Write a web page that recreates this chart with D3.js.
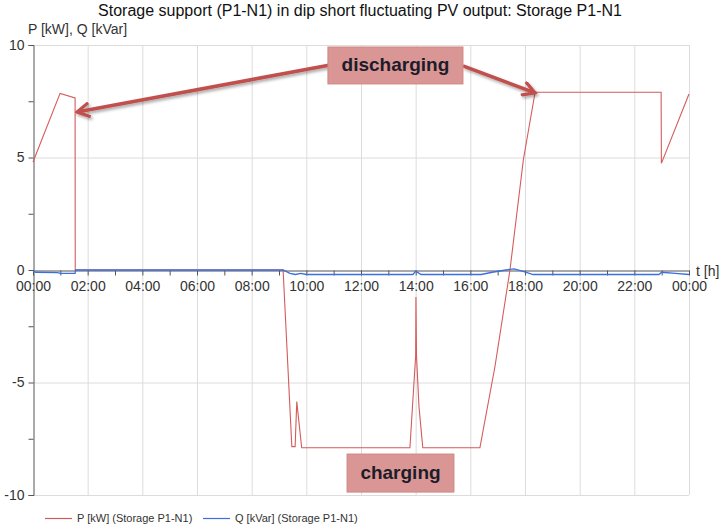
<!DOCTYPE html>
<html>
<head>
<meta charset="utf-8">
<script src="https://cdn.jsdelivr.net/npm/d3@7"></script>
<style>
  body { margin: 0; background: #fff; }
  text { font-family: Arial, "Liberation Sans", sans-serif; }
</style>
</head>
<body>
<svg width="720" height="528"></svg>
<script>
// P series (storage active power), hours vs kW
var pTime = [0, 0.99, 1.54, 1.545, 9.15, 9.47, 9.59, 9.65, 9.83, 13.79, 14.0, 14.01, 14.03, 14.12, 14.26, 16.35, 16.9, 17.45, 17.94, 18.37, 22.98, 22.99, 24];
var pVal  = [4.8, 7.85, 7.65, 0, 0, -7.85, -7.85, -5.85, -7.9, -7.9, -3.8, -1.2, -3.8, -6.05, -7.9, -7.9, -4.3, 0, 4.9, 7.9, 7.9, 4.74, 7.82];
// Q series (reactive power)
var qTime = [0, 0.1, 0.9, 1.0, 1.54, 1.56, 9.15, 9.4, 9.6, 9.8, 10, 13.9, 14.0, 14.2, 16.4, 16.8, 17.3, 17.6, 17.9, 18.3, 22.9, 23.0, 23.5, 24];
var qVal  = [-0.05, -0.1, -0.12, -0.15, -0.15, 0, 0, -0.15, -0.2, -0.15, -0.2, -0.2, -0.05, -0.2, -0.2, -0.1, 0, 0.05, -0.05, -0.2, -0.2, -0.1, -0.15, -0.2];

var xTicks = [0, 2, 4, 6, 8, 10, 12, 14, 16, 18, 20, 22, 24];
var yTicks = [-10, -5, 0, 5, 10];

var svg = d3.select("svg");
var x = d3.scaleLinear().domain([0, 24]).range([33, 689]);
var y = d3.scaleLinear().domain([-10, 10]).range([495, 45]);

var red = "#d45b5b", blue = "#3b6fe0", axisCol = "#555";

svg.append("text")
  .attr("x", 360).attr("y", 16)
  .attr("text-anchor", "middle")
  .attr("font-size", "16px")
  .attr("fill", "#111")
  .text("Storage support (P1-N1) in dip short fluctuating PV output: Storage P1-N1");

svg.append("text")
  .attr("x", 28).attr("y", 34)
  .attr("font-size", "14px")
  .attr("fill", "#333")
  .text("P [kW], Q [kVar]");

// grid
var grid = svg.append("g").attr("stroke", "#dcdcdc").attr("stroke-width", 1);
xTicks.slice(1).forEach(function (t) {
  grid.append("line").attr("x1", x(t) + 0.5).attr("x2", x(t) + 0.5).attr("y1", y(10)).attr("y2", y(-10));
});
yTicks.forEach(function (v) {
  if (v == 0) return;
  grid.append("line").attr("x1", x(0)).attr("x2", x(24)).attr("y1", y(v) + 0.5).attr("y2", y(v) + 0.5);
});

// y axis
var yAxis = svg.append("g")
  .attr("transform", "translate(" + (x(0) + 0.5) + ",0)")
  .call(d3.axisLeft(y).tickValues(d3.range(-10, 10.1, 2.5)).tickSize(5)
    .tickFormat(function (d) { return yTicks.indexOf(d) >= 0 ? d : ""; }));
yAxis.select(".domain").attr("stroke", axisCol);
yAxis.selectAll(".tick line").attr("stroke", axisCol);
yAxis.selectAll(".tick text").attr("font-size", "14px").attr("fill", "#333").attr("x", -9)
  .attr("font-family", "Arial, 'Liberation Sans', sans-serif");

// x axis at zero
var xAxis = svg.append("g")
  .attr("transform", "translate(0," + (y(0) + 0.5) + ")")
  .call(d3.axisBottom(x).tickValues(d3.range(0, 24.1, 1)).tickSize(5).tickSizeOuter(0)
    .tickFormat(function (d) { return d % 2 == 0 ? d3.format("02d")(d % 24) + ":00" : ""; }));
xAxis.select(".domain").attr("stroke", axisCol);
xAxis.selectAll(".tick line").attr("stroke", axisCol);
xAxis.selectAll(".tick text").attr("font-size", "14px").attr("fill", "#333").attr("y", 11)
  .attr("font-family", "Arial, 'Liberation Sans', sans-serif");

svg.append("text")
  .attr("x", 696).attr("y", y(0) + 6)
  .attr("font-size", "14px")
  .attr("fill", "#333")
  .text("t [h]");

// series (P first so Q sits on top along zero)
var line = d3.line().x(function (d) { return x(d[0]); }).y(function (d) { return y(d[1]); });
svg.append("path")
  .datum(pTime.map(function (t, i) { return [t, pVal[i]]; }))
  .attr("d", line).attr("fill", "none").attr("stroke", red).attr("stroke-width", 1.1);
svg.append("path")
  .datum(qTime.map(function (t, i) { return [t, qVal[i]]; }))
  .attr("d", line).attr("fill", "none").attr("stroke", blue).attr("stroke-width", 1.3);

// annotations
var defs = svg.append("defs");
var f = defs.append("filter").attr("id", "shadow").attr("x", "-20%").attr("y", "-50%").attr("width", "140%").attr("height", "200%");
f.append("feDropShadow").attr("dx", 1.5).attr("dy", 2).attr("stdDeviation", 1.5).attr("flood-color", "#000").attr("flood-opacity", 0.35);
defs.append("marker").attr("id", "head")
  .attr("viewBox", "0 0 10 10").attr("refX", 9).attr("refY", 5)
  .attr("markerWidth", 4.5).attr("markerHeight", 4.5).attr("orient", "auto")
  .append("path").attr("d", "M1,0.5 L9,5 L1,9.5").attr("fill", "none").attr("stroke", "#c0504d").attr("stroke-width", 2);

var arrows = [[10.87, 9.11, 1.61, 7.02], [15.73, 9.07, 18.37, 7.87]];
arrows.forEach(function (a) {
  svg.append("line")
    .attr("x1", x(a[0])).attr("y1", y(a[1])).attr("x2", x(a[2])).attr("y2", y(a[3]))
    .attr("stroke", "#c0504d").attr("stroke-width", 3.5)
    .attr("marker-end", "url(#head)")
    .attr("filter", "url(#shadow)");
});

var boxes = [
  { label: "discharging", t0: 10.79, t1: 15.73, v0: 9.91, v1: 8.27 },
  { label: "charging", t0: 11.49, t1: 15.4, v0: -8.18, v1: -9.87 }
];
boxes.forEach(function (b) {
  svg.append("rect")
    .attr("x", x(b.t0)).attr("y", y(b.v0))
    .attr("width", x(b.t1) - x(b.t0)).attr("height", y(b.v1) - y(b.v0))
    .attr("fill", "#d99694").attr("stroke", "#cf8683").attr("stroke-width", 1);
  svg.append("text")
    .attr("x", (x(b.t0) + x(b.t1)) / 2).attr("y", (y(b.v0) + y(b.v1)) / 2 + 6)
    .attr("text-anchor", "middle")
    .attr("font-family", "Lato, 'Open Sans', sans-serif")
    .attr("font-weight", "bold")
    .attr("font-size", "19px")
    .attr("fill", "#1c1c2a")
    .text(b.label);
});

// legend
var legend = [["P [kW] (Storage P1-N1)", red, 45], ["Q [kVar] (Storage P1-N1)", blue, 203]];
legend.forEach(function (l) {
  svg.append("line").attr("x1", l[2]).attr("x2", l[2] + 27).attr("y1", 518.5).attr("y2", 518.5)
    .attr("stroke", l[1]).attr("stroke-width", 1.2);
  svg.append("text").attr("x", l[2] + 32).attr("y", 522).attr("font-size", "11px").attr("fill", "#333").text(l[0]);
});
</script>
</body>
</html>
